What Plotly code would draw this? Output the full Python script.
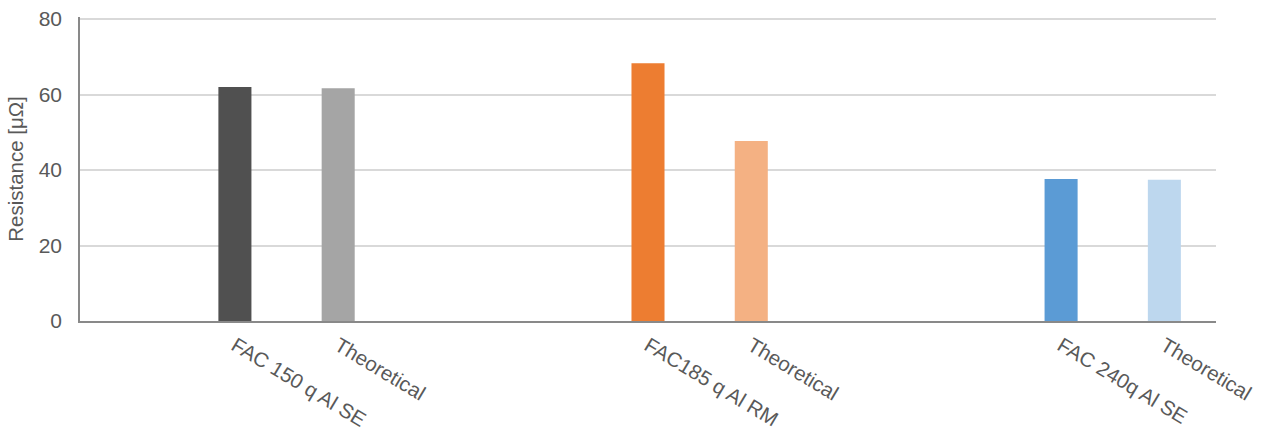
import plotly.graph_objects as go

# Category slots along the x axis; blank slots separate the three groups
labels = ["", "FAC 150 q Al SE", "Theoretical", "", "",
          "FAC185 q Al RM", "Theoretical", "", "",
          "FAC 240q Al SE", "Theoretical"]
values = [None, 62.0, 61.7, None, None, 68.3, 47.7, None, None, 37.6, 37.4]
colors = ["#FFFFFF", "#505050", "#A5A5A5", "#FFFFFF", "#FFFFFF",
          "#ED7D31", "#F4B183", "#FFFFFF", "#FFFFFF", "#5B9BD5", "#BDD7EE"]

slots = list(range(len(labels)))

fig = go.Figure(go.Bar(
    x=slots, y=values, marker=dict(color=colors, line=dict(width=0)),
    width=0.32, hoverinfo="skip",
))

fig.update_layout(
    width=1266, height=435,
    margin=dict(l=80, r=50, t=17, b=114),
    paper_bgcolor="white", plot_bgcolor="white",
    font=dict(family="Liberation Sans", color="#595959"),
    showlegend=False,
)
fig.update_xaxes(
    range=[-0.5, len(labels) - 0.5], automargin=False,
    tickmode="array", tickvals=slots, ticktext=labels,
    tickangle=31, tickfont=dict(family="Liberation Sans", size=20.5, color="#595959"),
    ticklabelstandoff=3,
    showline=True, linecolor="#898989", linewidth=1.5,
    showgrid=False, ticks="", zeroline=False,
)
fig.update_yaxes(
    range=[0, 80.55], automargin=False, tickvals=[0, 20, 40, 60, 80],
    tickfont=dict(family="Liberation Sans", size=21, color="#595959"),
    ticklabelstandoff=12,
    title=dict(text="Resistance [μΩ]", font=dict(family="Liberation Sans", size=20.5, color="#595959"), standoff=10),
    showline=True, linecolor="#898989", linewidth=1.5,
    showgrid=True, gridcolor="#D9D9D9", gridwidth=1.5,
    zeroline=False, ticks="",
)

fig.write_html("out.html")
